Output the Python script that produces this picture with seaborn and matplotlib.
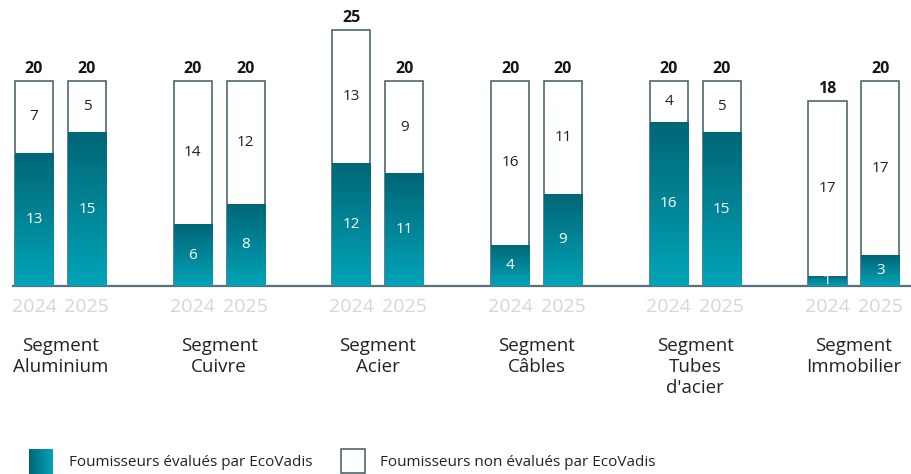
import numpy as np
import pandas as pd
import matplotlib
matplotlib.use("Agg")
import matplotlib.pyplot as plt
import seaborn as sns
from matplotlib.colors import LinearSegmentedColormap
from matplotlib.patches import Rectangle
from matplotlib.transforms import blended_transform_factory

# Suppliers assessed / not assessed by EcoVadis, per segment and year
segments = ["Segment\nAluminium", "Segment\nCuivre", "Segment\nAcier",
            "Segment\nCâbles", "Segment\nTubes\nd'acier", "Segment\nImmobilier"]
years = ["2024", "2025"]
evaluated_2024 = [13, 6, 12, 4, 16, 1]
evaluated_2025 = [15, 8, 11, 9, 15, 3]
not_evaluated_2024 = [7, 14, 13, 16, 4, 17]
not_evaluated_2025 = [5, 12, 9, 11, 5, 17]
legend_labels = ["Foumisseurs évalués par EcoVadis",
                 "Foumisseurs non évalués par EcoVadis"]

TEAL_DARK = "#006676"
TEAL_LIGHT = "#00a4b8"
EDGE = "#3f5863"
AXIS = "#5b6f79"
teal_cmap = LinearSegmentedColormap.from_list("teal", [TEAL_LIGHT, TEAL_DARK])

sns.set_theme(style="white")
plt.rcParams["font.family"] = ["Open Sans", "DejaVu Sans"]

rows = []
for g, seg in enumerate(segments):
    ev_pair = (evaluated_2024[g], evaluated_2025[g])
    ne_pair = (not_evaluated_2024[g], not_evaluated_2025[g])
    for k, yr in enumerate(years):
        rows.append(dict(segment=seg, year=yr, pos=3 * g + k,
                         evaluated=ev_pair[k], not_evaluated=ne_pair[k],
                         total=ev_pair[k] + ne_pair[k]))
df = pd.DataFrame(rows)

W, H = 912, 474
fig = plt.figure(figsize=(W / 100, H / 100), dpi=100)
fig.patch.set_facecolor("white")
ax = fig.add_axes([13 / W, (H - 286) / H, (W - 13) / W, 286 / H])
ax.set_facecolor("none")

# Full bar (outlined white) = total; assessed part drawn on top of it
sns.barplot(data=df, x="pos", y="total", native_scale=True, width=0.72,
            color="white", saturation=1, edgecolor=EDGE, linewidth=1.1,
            errorbar=None, ax=ax, zorder=2)
sns.barplot(data=df, x="pos", y="evaluated", native_scale=True, width=0.72,
            color=TEAL_LIGHT, saturation=1, linewidth=0,
            errorbar=None, ax=ax, zorder=3)

# Vertical gradient inside each assessed bar
grad = np.linspace(0, 1, 256).reshape(-1, 1)
for patch in ax.containers[1]:
    x0, y0 = patch.get_x(), patch.get_y()
    w, h = patch.get_width(), patch.get_height()
    im = ax.imshow(grad, cmap=teal_cmap, origin="lower", aspect="auto",
                   extent=[x0, x0 + w, y0, y0 + h], zorder=4)
    im.set_clip_path(patch)
ax.set_xlim(-0.397, 16.597)
ax.set_ylim(0, 27.9)

# Value labels
ax.bar_label(ax.containers[0], padding=3, fontsize=11.5, fontweight="bold",
             color="#151515", zorder=6)
ax.bar_label(ax.containers[1], label_type="center", fontsize=11,
             color="white", zorder=6)
for _, r in df.iterrows():
    ax.text(r["pos"], r["evaluated"] + r["not_evaluated"] / 2,
            f"{r['not_evaluated']}", ha="center", va="center",
            fontsize=11, color="#222222", zorder=6)

# Axes styling
sns.despine(ax=ax, left=True, top=True, right=True)
ax.spines["bottom"].set_color(AXIS)
ax.spines["bottom"].set_linewidth(1.6)
ax.set_yticks([])
ax.set_xticks(df["pos"])
ax.set_xticklabels(df["year"], fontsize=14, color="#d6d6d6")
ax.tick_params(axis="x", length=0, pad=9)
ax.set_xlabel("")
ax.set_ylabel("")

trans = blended_transform_factory(ax.transData, fig.transFigure)
for g, seg in enumerate(segments):
    ax.text(3 * g + 0.5, (H - 337) / H, seg, transform=trans, ha="center",
            va="top", fontsize=13.5, color="#222222", linespacing=1.2)

# Legend
sw1 = fig.add_axes([29 / W, 0, 24 / W, 25 / H])
sw1.imshow(np.linspace(0, 1, 64).reshape(1, -1), cmap=teal_cmap.reversed(),
           aspect="auto")
sw1.set_axis_off()
fig.text(69 / W, (H - 462) / H, legend_labels[0], fontsize=11,
         color="#222222", va="center", ha="left")
fig.patches.append(Rectangle((341 / W, 1 / H), 24 / W, 24 / H,
                             transform=fig.transFigure, facecolor="white",
                             edgecolor=EDGE, linewidth=1.1))
fig.text(380 / W, (H - 462) / H, legend_labels[1], fontsize=11,
         color="#222222", va="center", ha="left")

fig.savefig("out.png", dpi=100, facecolor="white")
